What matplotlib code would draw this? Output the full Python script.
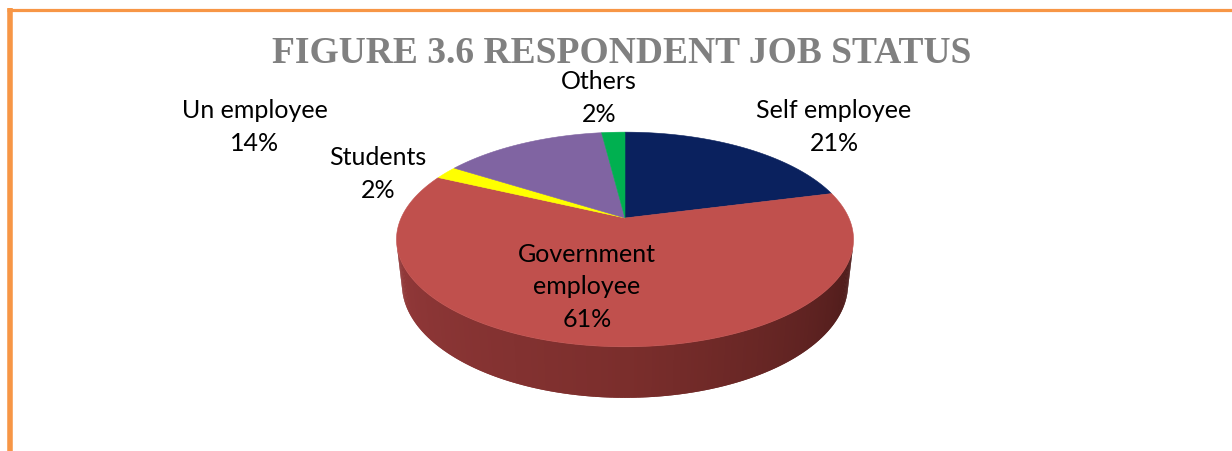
import numpy as np
import matplotlib
matplotlib.use("Agg")
import matplotlib.pyplot as plt
from matplotlib.patches import Polygon
from matplotlib.colors import to_rgb

# ---- data ----
categories = ["Self employee", "Government\nemployee", "Students", "Un employee", "Others"]
shares = [21, 61, 2, 14, 2]
colors = ["#0A215E", "#C0504D", "#FFFF00", "#8064A2", "#00B050"]
title = "FIGURE 3.6 RESPONDENT JOB STATUS"

# ---- figure in pixel space ----
W, H = 1232, 451
fig = plt.figure(figsize=(W / 100, H / 100), dpi=100)
ax = fig.add_axes([0, 0, 1, 1])
ax.set_xlim(0, W)
ax.set_ylim(H, 0)
ax.axis("off")

# ---- perspective camera for the 3D pie ----
alpha = np.radians(27.4)
s, c = np.sin(alpha), np.cos(alpha)
D = 4.4375
F = 993.5
CX, CY = 625, 218
DEPTH = 0.2266


def proj(X, Y, Z):
    yc = s * Y + c * Z
    zc = c * Y - s * Z + D
    return CX + F * X / zc, CY - F * yc / zc


# side wall (front part of the cylinder), shaded darker towards the right
side_lim = np.degrees(np.arcsin(1.0 / (D * c)))
phis = np.linspace(-180 + side_lim, -side_lim, 200)
left_col = np.array(to_rgb("#93393A"))
mid_col = np.array(to_rgb("#7B2E2C"))
right_col = np.array(to_rgb("#4C1B1A"))
for i in range(len(phis) - 1):
    a0 = phis[i]
    a1 = phis[min(i + 2, len(phis) - 1)]  # overlap neighbours to hide seams
    t = (0.5 * (phis[i] + phis[i + 1]) - phis[0]) / (phis[-1] - phis[0])
    if t < 0.5:
        col = left_col + (mid_col - left_col) * (t / 0.5)
    else:
        col = mid_col + (right_col - mid_col) * ((t - 0.5) / 0.5)
    r0, r1 = np.radians(a0), np.radians(a1)
    pts = [proj(np.cos(r0), np.sin(r0), 0), proj(np.cos(r1), np.sin(r1), 0),
           proj(np.cos(r1), np.sin(r1), -DEPTH), proj(np.cos(r0), np.sin(r0), -DEPTH)]
    ax.add_patch(Polygon(pts, closed=True, facecolor=col, edgecolor="none", lw=0))

# top face slices, clockwise from 12 o'clock
total = float(sum(shares))
start = 90.0
for val, col in zip(shares, colors):
    sweep = 360.0 * val / total
    ang = np.radians(np.linspace(start, start - sweep, max(int(sweep * 2), 4)))
    pts = [proj(0, 0, 0)] + [proj(np.cos(a), np.sin(a), 0) for a in ang]
    ax.add_patch(Polygon(pts, closed=True, facecolor=col, edgecolor=col, lw=0.4))
    start -= sweep

# ---- data labels ----
label_xy = {
    "Self employee": (834, 127),
    "Government\nemployee": (587, 287),
    "Students": (378, 174),
    "Un employee": (255, 127),
    "Others": (599, 98),
}
for cat, val in zip(categories, shares):
    x, y = label_xy[cat]
    ax.text(x, y, f"{cat}\n{val}%", ha="center", va="center", multialignment="center",
            fontsize=18, family=["Lato", "DejaVu Sans"], color="#000000", linespacing=1.5)

# ---- title ----
ax.text(622, 63, title, ha="center", va="baseline", fontsize=27,
        family=["Liberation Serif", "DejaVu Serif"], fontweight="bold", color="#808080")

# ---- frame lines ----
ax.plot([7, W], [9.5, 9.5], color="#F79646", lw=2.3, solid_capstyle="butt")
ax.plot([9.8, 9.8], [8, H], color="#F79646", lw=4.0, solid_capstyle="butt")

fig.savefig("out.png", dpi=100)
